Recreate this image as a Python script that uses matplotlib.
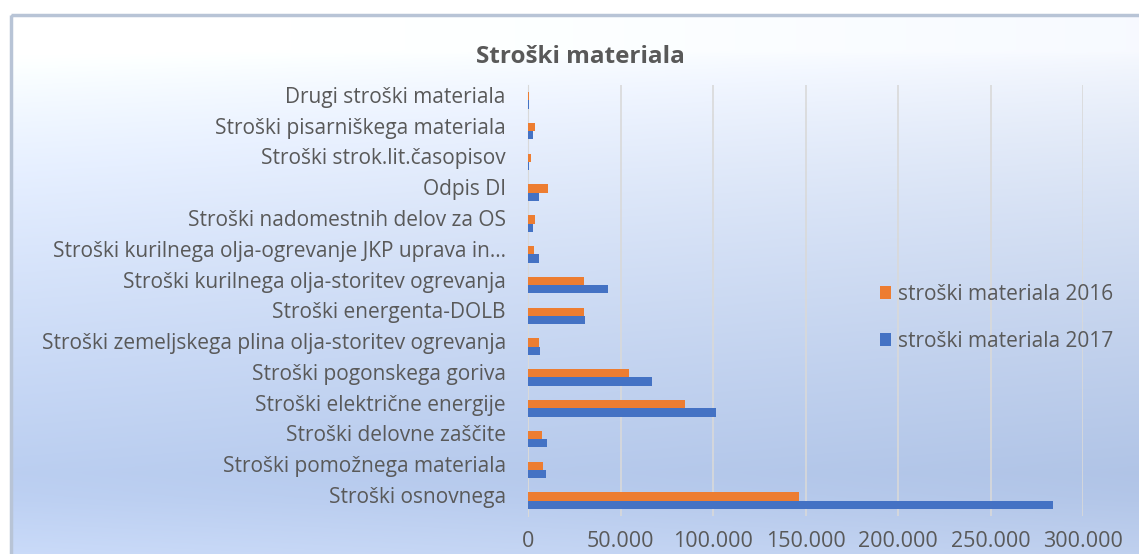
import matplotlib.pyplot as plt
import numpy as np
from matplotlib.ticker import FuncFormatter
from matplotlib.patches import Rectangle
from matplotlib.transforms import ScaledTranslation

kategorije = [
    'Drugi stroški materiala',
    'Stroški pisarniškega materiala',
    'Stroški strok.lit.časopisov',
    'Odpis DI',
    'Stroški nadomestnih delov za OS',
    'Stroški kurilnega olja-ogrevanje JKP uprava in…',
    'Stroški kurilnega olja-storitev ogrevanja',
    'Stroški energenta-DOLB',
    'Stroški zemeljskega plina olja-storitev ogrevanja',
    'Stroški pogonskega goriva',
    'Stroški električne energije',
    'Stroški delovne zaščite',
    'Stroški pomožnega materiala',
    'Stroški osnovnega',
]
stroski_2016 = [300, 3600, 1400, 10700, 3800, 3200, 30400, 30000, 6000, 54400, 85000, 7600, 8300, 146500]
stroski_2017 = [500, 2500, 700, 6000, 2500, 6000, 43000, 31000, 6500, 66900, 101700, 10300, 9900, 283800]

siva = '#595959'
plt.rcParams['font.family'] = ['Open Sans', 'DejaVu Sans']

fig = plt.figure(figsize=(11.39, 5.54), dpi=100)

# --- ozadje: gradient ---
bg = fig.add_axes([0, 0, 1, 1], zorder=0)
bg.set_xlim(0, 1139); bg.set_ylim(554, 0); bg.axis('off')
yy = np.linspace(0, 1, 300)[:, None]
xx = np.linspace(0, 1, 300)[None, :]
top = np.array([0.97, 0.98, 1.0])
mid = np.array([0.68, 0.76, 0.90])
t = np.clip(yy * 1.2 - 0.08, 0, 1)
grad = top + (mid - top) * t[..., None] ** 0.75
bot = np.clip((yy - 0.85) / 0.15, 0, 1)[..., None]
grad = grad + (np.array([0.78, 0.84, 0.95]) - grad) * bot * 0.7
grad = np.clip(grad + 0.04 * (1 - xx)[..., None] * (yy[..., None] > 0), 0, 1)
bg.imshow(grad, extent=[11, 1139, 554, 15], aspect='auto', zorder=0)
bg.add_patch(Rectangle((11, 15), 1140, 560, fill=False, edgecolor='#b8c4d6', lw=2.5, zorder=1))

# --- graf ---
ax = fig.add_axes([528 / 1139, 1 - 516 / 554, (1083 - 528) / 1139, (516 - 85) / 554], zorder=1)
ax.patch.set_alpha(0)
y = np.arange(len(kategorije))
h = 0.27
ax.barh(y - h / 2, stroski_2016, height=h, color='#ed7d31', label='stroški materiala 2016', zorder=3)
ax.barh(y + h / 2, stroski_2017, height=h, color='#4472c4', label='stroški materiala 2017', zorder=3)
ax.set_ylim(len(kategorije) - 0.5, -0.5)
ax.set_xlim(0, 300000)
ax.set_xticks(range(0, 300001, 50000))
ax.xaxis.set_major_formatter(FuncFormatter(lambda v, p: f'{int(v):,}'.replace(',', '.')))
ax.set_yticks(y)
ax.set_yticklabels(kategorije)
ax.tick_params(axis='both', length=0, labelcolor=siva)
ax.tick_params(axis='y', pad=16, labelsize=15)
ax.tick_params(axis='x', pad=11, labelsize=15.5)
ax.grid(axis='x', color='#d9d9d9', lw=1.2, zorder=0)
for s in ['top', 'right', 'bottom']:
    ax.spines[s].set_visible(False)
ax.spines['left'].set_color('#d9d9d9')

# oznake malo visje, kot v originalu
premik = ScaledTranslation(0, 4 / 72, fig.dpi_scale_trans)
for lab in ax.get_yticklabels():
    lab.set_transform(lab.get_transform() + premik)

handles, labels = ax.get_legend_handles_labels()
fig.legend(handles, labels, loc='center left', bbox_to_anchor=(880 / 1139, 1 - 318 / 554),
           frameon=False, fontsize=15, labelcolor=siva, handlelength=0.55, handleheight=0.55,
           handletextpad=0.3, labelspacing=1.25, borderpad=0, borderaxespad=0)

fig.text(580 / 1139, 1 - 57 / 554, 'Stroški materiala', ha='center', va='center',
         fontsize=17.5, fontweight='bold', color=siva)

fig.savefig('out.png', dpi=100)
